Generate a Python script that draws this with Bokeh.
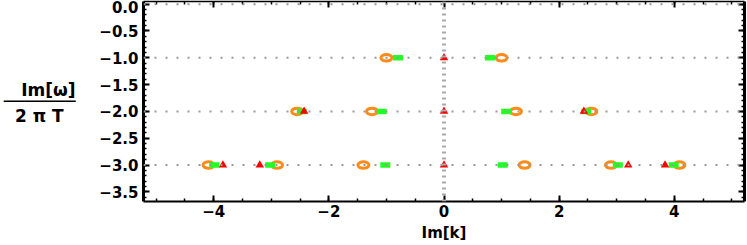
from bokeh.plotting import figure
from bokeh.models import (LinearAxis, FixedTicker, CustomJSTickFormatter, Range1d, Span)
from bokeh.embed import file_html
from bokeh.resources import INLINE

# ---- data ----
orange_x = [-1.0, 1.0, -2.55, -1.25, 1.25, 2.56, -4.09, -2.9, -1.4, 1.4, 2.9, 4.09]
orange_y = [-1, -1, -2, -2, -2, -2, -3, -3, -3, -3, -3, -3]
green_x = [-0.8, 0.8, -2.47, -1.08, 1.08, 2.47, -3.99, -3.02, -1.02, 1.02, 3.02, 3.99]
green_y = [-1, -1, -2, -2, -2, -2, -3, -3, -3, -3, -3, -3]
red_x = [0.0, -2.43, 0.0, 2.43, -3.84, -3.2, 0.0, 3.2, 3.84]
red_y = [-1, -2, -2, -2, -3, -3, -3, -3, -3]

x_major = [-4, -2, 0, 2, 4]
y_major = [0.0, -0.5, -1.0, -1.5, -2.0, -2.5, -3.0, -3.5]
grid_rows = [0, -1, -2, -3]

# y-axis title, written as a fraction (bottom to top)
ytitle_parts = ["2 \u03c0 T\u00a0\u00a0", "\u2500" * 7, "Im[\u03c9]"]
ytitle_pos = [-2.08, -1.80, -1.60]

FONT = "DejaVu Sans"

p = figure(width=746, height=244, output_backend="svg", toolbar_location=None,
           x_range=Range1d(-5.22, 5.22), y_range=Range1d(-3.68, 0.05),
           min_border_left=142, min_border_right=2, min_border_top=1, min_border_bottom=0,
           x_axis_location=None, y_axis_location=None)
p.outline_line_color = None
p.background_fill_color = "white"

fmt = CustomJSTickFormatter(code="""
const s = Math.abs(tick).toFixed(1);
return (tick < -1e-9 ? '\u2212' : '') + s;
""")
fmtx = CustomJSTickFormatter(code="""
return (tick < -1e-9 ? '\u2212' : '') + Math.abs(tick).toFixed(0);
""")
blank = CustomJSTickFormatter(code="return '';")
title_fmt = CustomJSTickFormatter(args=dict(parts=ytitle_parts), code="return parts[index];")


def style_axis(ax, lw, labels=True):
    ax.axis_line_width = lw
    ax.axis_line_color = "black"
    ax.major_tick_in = 6
    ax.major_tick_out = 0
    ax.minor_tick_in = 3
    ax.minor_tick_out = 0
    ax.major_tick_line_width = 2
    ax.minor_tick_line_width = 1.5
    ax.major_tick_line_color = "black"
    ax.minor_tick_line_color = "black"
    if labels:
        ax.major_label_text_font = FONT
        ax.major_label_text_font_style = "bold"
        ax.major_label_text_font_size = "15px"
        ax.major_label_text_color = "black"
    else:
        ax.formatter = blank
        ax.major_label_standoff = 0


yminor = [round(-3.6 + 0.1 * i, 2) for i in range(37)]
xminor = [round(-5.0 + 0.5 * i, 2) for i in range(21)]

left = LinearAxis(ticker=FixedTicker(ticks=y_major, minor_ticks=yminor), formatter=fmt)
style_axis(left, 3)
left.major_label_standoff = 5
p.add_layout(left, "left")

# extra left axis carrying the y title (fraction)
ttl = LinearAxis(ticker=FixedTicker(ticks=ytitle_pos, minor_ticks=[]), formatter=title_fmt)
ttl.axis_line_color = None
ttl.major_tick_line_color = None
ttl.minor_tick_line_color = None
ttl.major_tick_in = 0
ttl.major_tick_out = 0
ttl.minor_tick_in = 0
ttl.minor_tick_out = 0
ttl.major_label_standoff = 21
ttl.major_label_text_font = FONT
ttl.major_label_text_font_style = "bold"
ttl.major_label_text_font_size = "17px"
ttl.major_label_text_color = "black"
p.add_layout(ttl, "left")

right = LinearAxis(ticker=FixedTicker(ticks=y_major, minor_ticks=yminor))
style_axis(right, 3, labels=False)
p.add_layout(right, "right")

bottom = LinearAxis(ticker=FixedTicker(ticks=x_major, minor_ticks=xminor), formatter=fmtx,
                    axis_label="Im[k]")
style_axis(bottom, 2)
bottom.major_label_standoff = 3
bottom.axis_label_text_font = FONT
bottom.axis_label_text_font_style = "bold"
bottom.axis_label_text_font_size = "15px"
bottom.axis_label_text_color = "black"
bottom.axis_label_standoff = 4
p.add_layout(bottom, "below")

top = LinearAxis(ticker=FixedTicker(ticks=x_major, minor_ticks=xminor))
style_axis(top, 1.5, labels=False)
p.add_layout(top, "above")

# grid lines
p.xgrid.visible = False
p.ygrid.visible = False
for r in grid_rows:
    p.add_layout(Span(location=r, dimension="width", line_color="#999999",
                      line_width=2, line_dash="2 9"))
p.add_layout(Span(location=0, dimension="height", line_color="#aaaaaa",
                  line_width=4, line_dash="2 4"))

# markers
p.ellipse(x=orange_x, y=orange_y, width=11, height=6.5, width_units="screen",
          height_units="screen", fill_color=None, line_color="#ff8c1a", line_width=3)
p.rect(x=green_x, y=green_y, width=10, height=5.5, width_units="screen",
       height_units="screen", fill_color="#22ff22", line_color=None)
p.scatter(x=red_x, y=red_y, marker="triangle", size=8.5, fill_color="#ff0000",
          line_color=None)

open("out.html", "w").write(file_html(p, INLINE))
